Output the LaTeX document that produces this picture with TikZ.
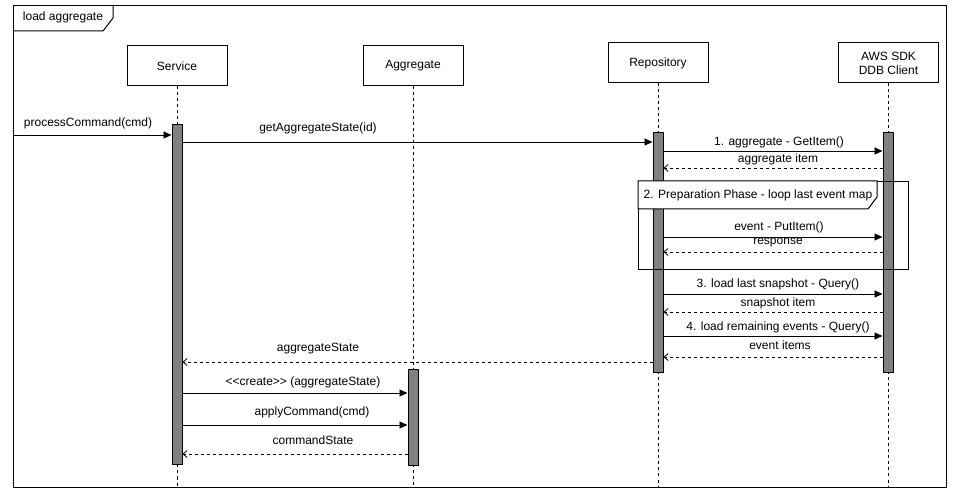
\documentclass[tikz,border=0pt]{standalone}
\usepackage{fontspec}
\setmainfont{Liberation Sans}
\usetikzlibrary{arrows.meta}
\definecolor{barfill}{HTML}{808080}
\begin{document}
\begin{tikzpicture}[x=1pt,y=-1pt,
  every node/.style={font=\fontsize{12}{14}\selectfont},
  actor/.style={draw, line width=1pt, minimum width=100pt, minimum height=40pt, inner sep=0pt, align=center, fill=white},
  lifeline/.style={draw, line width=0.8pt, dash pattern=on 3pt off 3pt},
  bar/.style={draw, fill=barfill, line width=1pt, minimum width=10pt, inner sep=0pt},
  sync/.style={draw, line width=0.9pt, -{Triangle[length=8pt,width=7pt]}},
  ret/.style={draw, line width=0.8pt, dash pattern=on 3pt off 3pt, -{Straight Barb[length=4pt,width=7pt]}},
  lbl/.style={inner sep=0pt}
]
\useasboundingbox (0,0) rectangle (954,494);
% outer frame
\node[draw, line width=1pt, minimum width=933pt, minimum height=482pt, inner sep=0pt, anchor=north west] (frame) at (13,5) {};
\draw[line width=1pt] (13,31) -- (103,31) -- (113,18) -- (113,5);
\node[lbl] (ftitle) at (63,17) {load aggregate};
% actors
\node[actor] (service) at (177,66) {Service};
\node[actor] (aggregate) at (413,65.5) {Aggregate};
\node[actor] (repo) at (658,63) {Repository};
\node[actor, align=center] (aws) at (888.5,63) {AWS SDK\\DDB Client};
% lifelines
\draw[lifeline] (service.south) -- (service.south |- 0,486);
\draw[lifeline] (aggregate.south) -- (aggregate.south |- 0,486);
\draw[lifeline] (repo.south) -- (repo.south |- 0,486);
\draw[lifeline] (aws.south) -- (aws.south |- 0,486);
% activation bars
\node[bar, minimum height=340pt] (sbar) at (177,295) {};
\node[bar, minimum height=240pt] (rbar) at (658,253) {};
\node[bar, minimum height=240pt] (abar) at (888,253) {};
\node[bar, minimum height=96pt] (gbar) at (413,418) {};
% messages
\draw[sync] (frame.west |- 0,135) -- (sbar.west |- 0,135);
\node[lbl] (m0) at (88,123) {processCommand(cmd)};
\draw[sync] (sbar.east |- 0,142) -- (rbar.west |- 0,142);
\node[lbl] (m1) at (318,128) {getAggregateState(id)};
\draw[sync] (rbar.east |- 0,151) -- (abar.west |- 0,151);
\node[lbl] (m2) at (779,142) {1. aggregate - GetItem()};
\draw[ret] (abar.west |- 0,168) -- (rbar.east |- 0,168);
\node[lbl] (m3) at (778,159) {aggregate item};
\draw[sync] (rbar.east |- 0,237) -- (abar.west |- 0,237);
\node[lbl] (m4) at (779,227) {event - PutItem()};
\draw[ret] (abar.west |- 0,252) -- (rbar.east |- 0,252);
\node[lbl] (m5) at (778,243) {response};
\draw[sync] (rbar.east |- 0,294) -- (abar.west |- 0,294);
\node[lbl] (m6) at (778,284) {3. load last snapshot - Query()};
\draw[ret] (abar.west |- 0,312) -- (rbar.east |- 0,312);
\node[lbl] (m7) at (778,303) {snapshot item};
\draw[sync] (rbar.east |- 0,336) -- (abar.west |- 0,336);
\node[lbl] (m8) at (778,327) {4. load remaining events - Query()};
\draw[ret] (abar.west |- 0,357) -- (rbar.east |- 0,357);
\node[lbl] (m9) at (780,345) {event items};
\draw[ret] (rbar.west |- 0,362) -- (sbar.east |- 0,362);
\node[lbl] (m10) at (318,349) {aggregateState};
\draw[sync] (sbar.east |- 0,393) -- (gbar.west |- 0,393);
\node[lbl] (m11) at (303,382) {<{}<create>{}> (aggregateState)};
\draw[sync] (sbar.east |- 0,425) -- (gbar.west |- 0,425);
\node[lbl] (m12) at (312,412) {applyCommand(cmd)};
\draw[ret] (gbar.west |- 0,454) -- (sbar.east |- 0,454);
\node[lbl] (m13) at (313,440) {commandState};
% loop frame
\node[draw, line width=1pt, minimum width=270pt, minimum height=88pt, inner sep=0pt, anchor=north west] (loop) at (638,181) {};
\draw[line width=1pt, fill=white] (638,181) -- (877,181) -- (877,197) -- (868,209) -- (638,209) -- cycle;
\node[lbl] (looptitle) at (758,195) {2. Preparation Phase - loop last event map};
\end{tikzpicture}
\end{document}
